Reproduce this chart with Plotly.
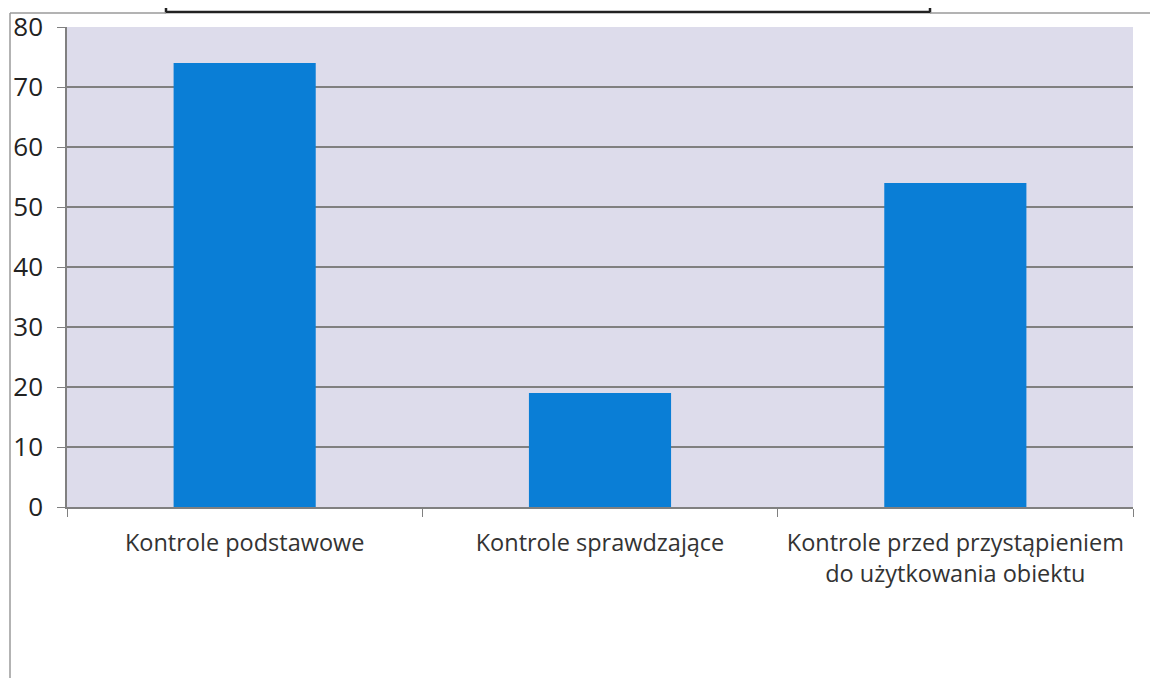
import plotly.graph_objects as go

categories = [
    "Kontrole podstawowe",
    "Kontrole sprawdzające",
    "Kontrole przed przystąpieniem<br>do użytkowania obiektu",
]
values = [74, 19, 54]

W, H = 1158, 678
OFF = 8  # page body margin
ML, MR, MT, MB = 59, 33, 19, 179
PW, PH = W - ML - MR, H - MT - MB


def px_x(p):
    return (p - OFF - ML) / PW


def px_y(p):
    return 1 - (p - OFF - MT) / PH


fig = go.Figure(
    go.Bar(
        x=categories,
        y=values,
        marker=dict(color="#0A7ED6", line=dict(width=0)),
        width=0.4,
    )
)

frame = dict(color="#9a9a9a", width=1.5)
shapes = [
    # box at the top edge (cut off in the scan)
    dict(type="rect", xref="paper", yref="paper",
         x0=px_x(166), x1=px_x(930), y0=px_y(12), y1=px_y(-10),
         line=dict(color="#222222", width=2.5), fillcolor="white"),
    # outer frame of the chart area
    dict(type="line", xref="paper", yref="paper",
         x0=px_x(10), x1=px_x(10), y0=px_y(13), y1=px_y(690), line=frame),
    dict(type="line", xref="paper", yref="paper",
         x0=px_x(10), x1=px_x(166), y0=px_y(13), y1=px_y(13), line=frame),
    dict(type="line", xref="paper", yref="paper",
         x0=px_x(930), x1=px_x(1170), y0=px_y(13), y1=px_y(13), line=frame),
]

fig.update_layout(
    width=W,
    height=H,
    autosize=False,
    margin=dict(l=ML, r=MR, t=MT, b=MB),
    paper_bgcolor="white",
    plot_bgcolor="#DDDCEB",
    font=dict(family="Open Sans, sans-serif", color="#333333"),
    showlegend=False,
    bargap=0.6,
    shapes=shapes,
)

fig.update_xaxes(
    type="category",
    automargin=False,
    showline=True,
    linecolor="#808080",
    linewidth=1.5,
    ticks="outside",
    tickson="boundaries",
    ticklen=8,
    tickcolor="#808080",
    tickfont=dict(size=23.5, color="#333333"),
    ticklabelstandoff=14,
)

fig.update_yaxes(
    range=[0, 80],
    dtick=10,
    automargin=False,
    showline=True,
    linecolor="#808080",
    linewidth=1.5,
    showgrid=True,
    gridcolor="#808080",
    gridwidth=1.5,
    zeroline=False,
    ticks="outside",
    ticklen=8,
    tickcolor="#808080",
    tickfont=dict(size=26, color="#222222"),
    ticklabelstandoff=9,
)

fig.write_html("out.html")
